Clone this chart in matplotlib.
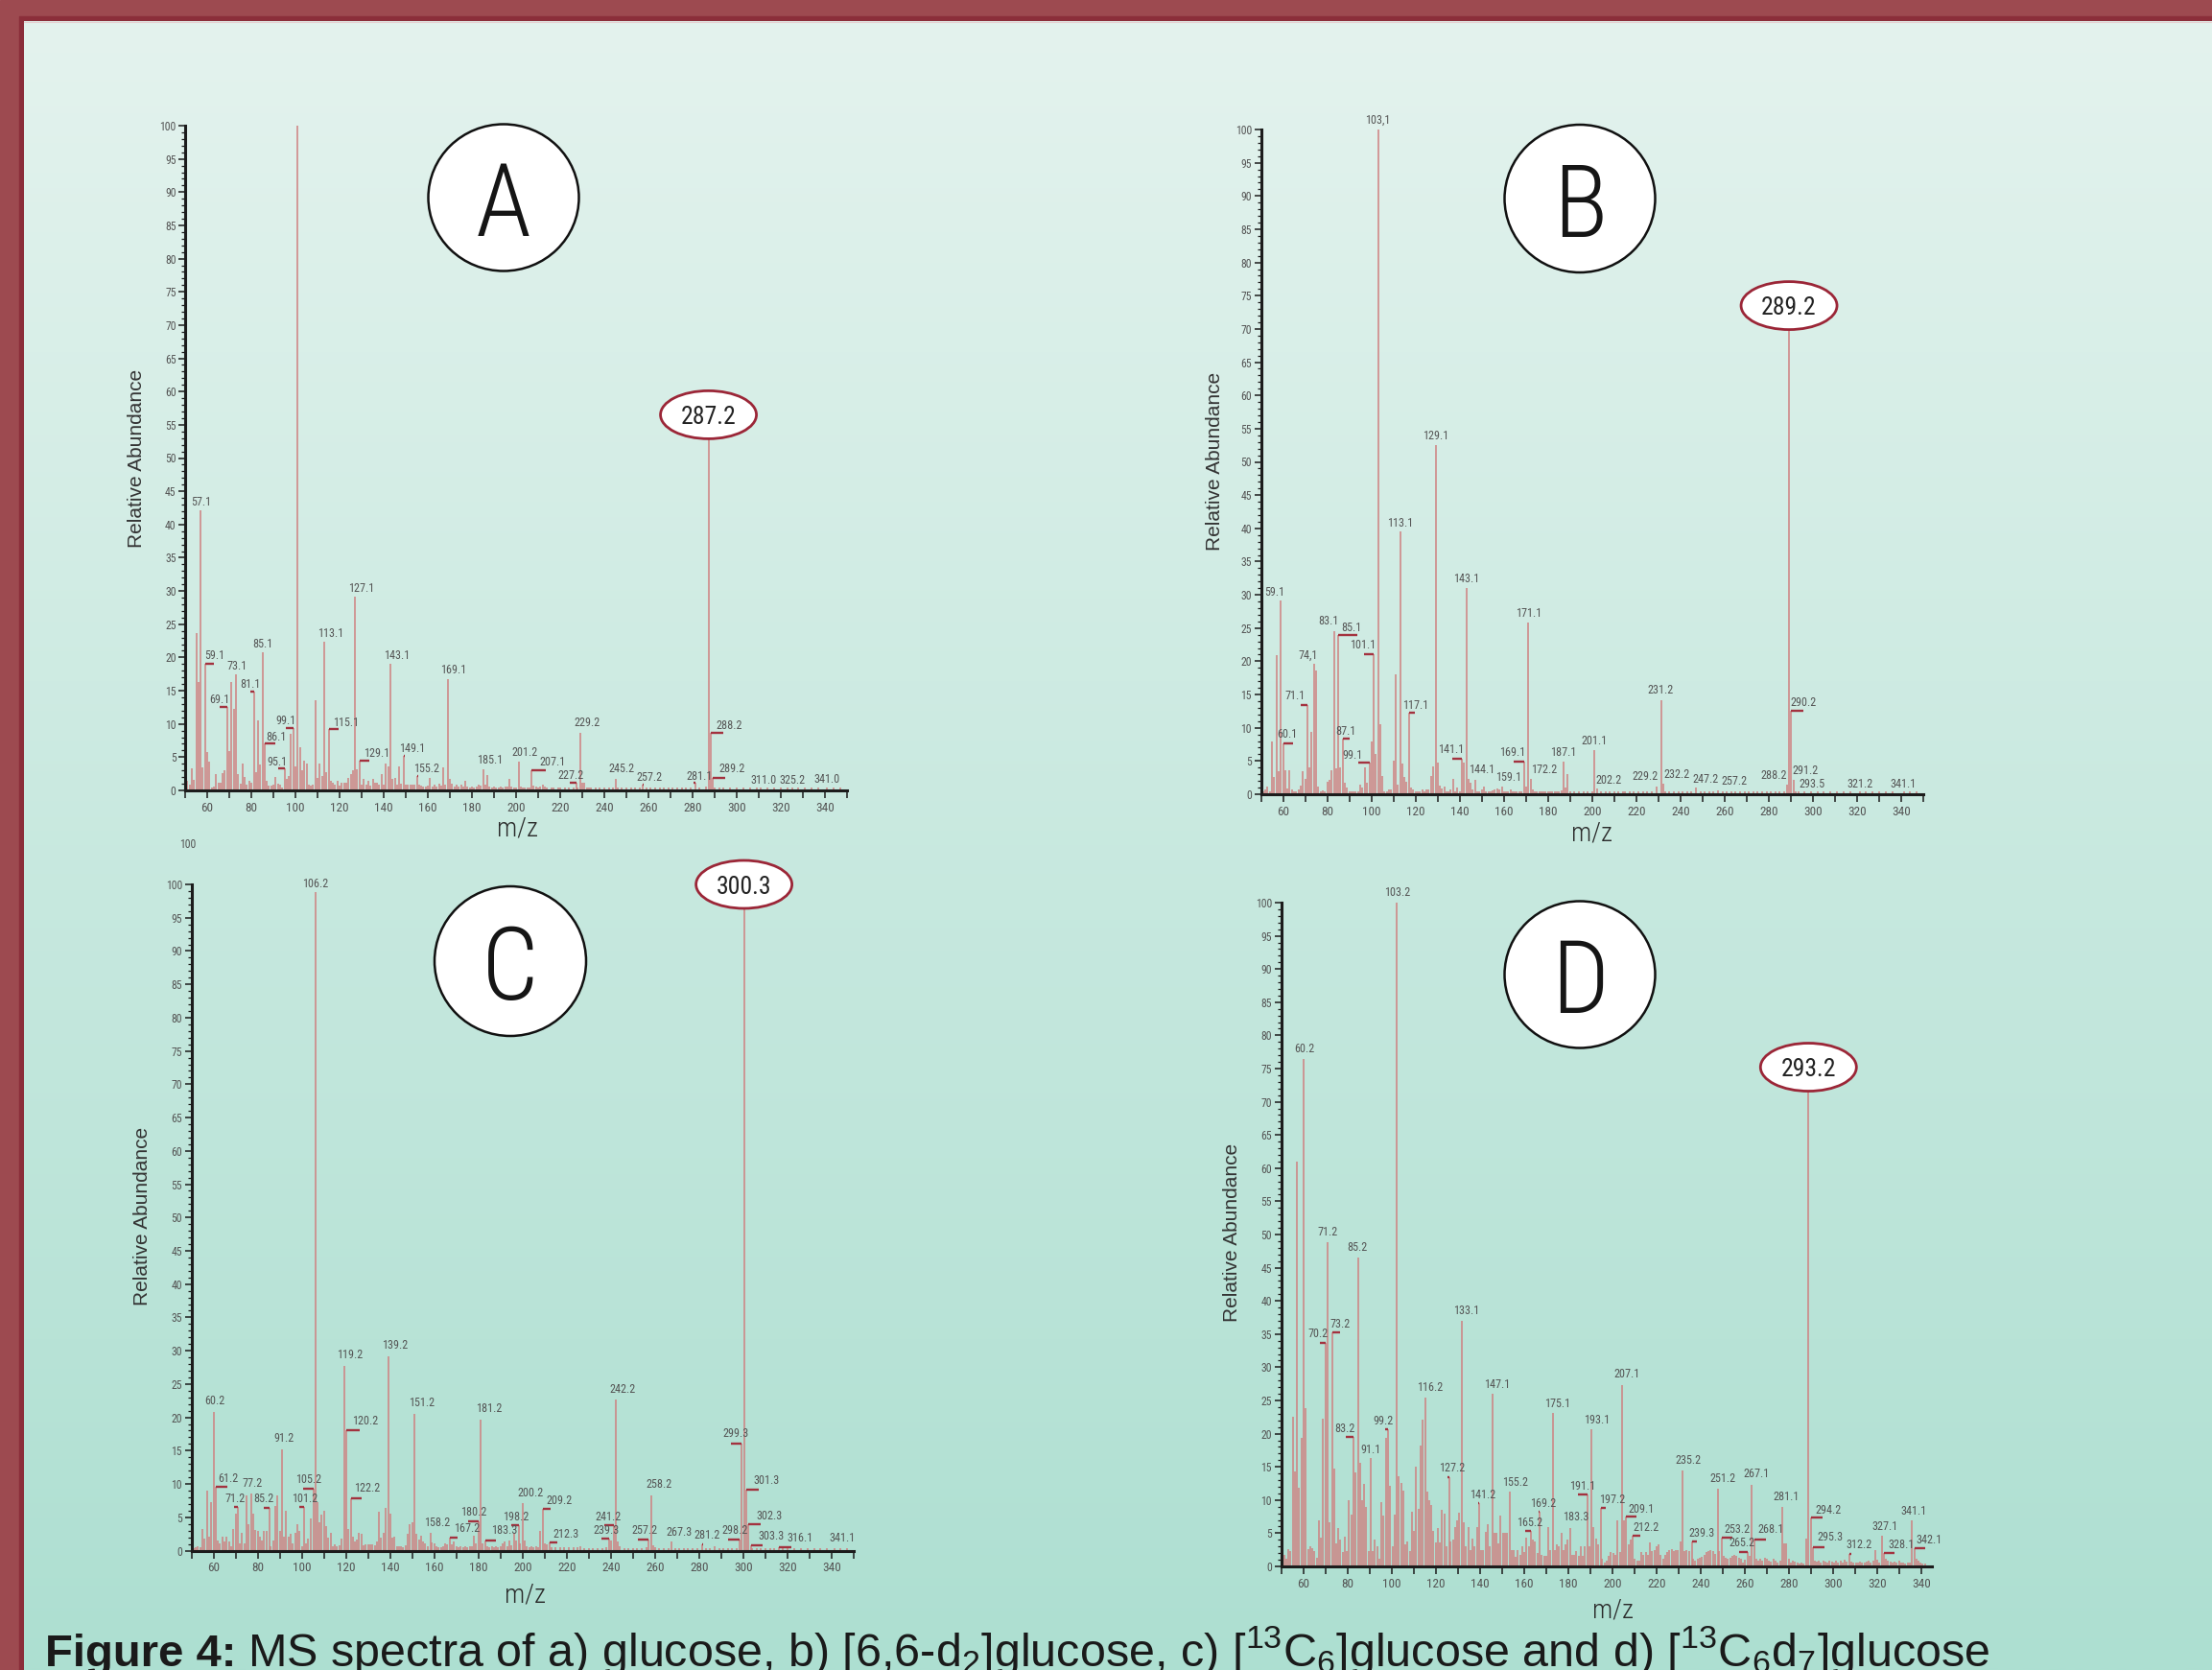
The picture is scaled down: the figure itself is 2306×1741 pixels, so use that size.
import numpy as np
import matplotlib
matplotlib.use("Agg")
import matplotlib.pyplot as plt
from matplotlib.patches import Ellipse, Rectangle
from matplotlib import font_manager

# ----------------------------------------------------------------- data
# (m/z, relative abundance)
A_peaks = [
    (51, 1.5), (52, 0.9), (53, 3.3), (54, 1.6), (55, 23.6), (56, 16.3), (57.1, 42.1), (58, 3.5), (59.1, 19.0), (60, 5.7),
    (61, 4.3), (62, 0.5), (63, 0.6), (64, 2.4), (65, 1.2), (66, 1.2), (67, 2.6), (68, 3.1), (69.1, 12.6), (70, 5.9),
    (71, 16.3), (72, 12.3), (73.1, 17.4), (74, 2.4), (75, 1.0), (76, 4.0), (77, 2.0), (78, 0.9), (79, 1.4), (80, 1.1),
    (81.1, 14.9), (82, 2.7), (83, 10.5), (84, 3.9), (85.1, 20.8), (86.1, 7.0), (87, 1.4), (88, 0.7), (89, 0.7), (90, 0.8),
    (91, 2.0), (92, 1.0), (93, 0.9), (94, 0.5), (95.1, 3.3), (96, 1.7), (97, 2.2), (98, 8.5), (99.1, 9.4), (100, 3.6),
    (101, 100.0), (102, 6.5), (103, 3.0), (104, 4.5), (105, 4.1), (106, 0.9), (107, 0.7), (108, 0.9), (109, 13.6), (110, 1.9),
    (111, 4.1), (112, 2.2), (113.1, 22.3), (114, 2.7), (115.1, 9.2), (116, 1.5), (117, 1.2), (118, 0.9), (119, 1.4), (120, 0.7),
    (121, 1.2), (122, 1.2), (123, 1.1), (124, 1.9), (125, 2.4), (126, 3.1), (127.1, 29.1), (128, 3.2), (129.1, 4.5), (130, 0.8),
    (131, 1.7), (132, 0.8), (133, 1.4), (134, 0.7), (135, 1.7), (136, 1.2), (137, 1.2), (138, 0.9), (139, 2.4), (140, 0.9),
    (141, 4.1), (142, 3.6), (143.1, 19.0), (144, 1.7), (145, 1.9), (146, 0.9), (147, 3.6), (148, 1.0), (149.1, 5.2), (150, 0.9),
    (151, 0.9), (152, 0.8), (153, 0.9), (154, 0.9), (155.2, 2.2), (156, 0.9), (157, 0.7), (158, 0.6), (159, 0.6), (160, 0.7),
    (161, 1.9), (162, 0.6), (163, 0.8), (164, 0.6), (165, 1.0), (166, 0.7), (167, 3.4), (168, 0.9), (169.1, 16.8), (170, 1.7),
    (171, 1.0), (172, 0.6), (173, 0.9), (174, 0.6), (175, 0.8), (176, 0.6), (177, 1.4), (178, 0.6), (179, 0.5), (180, 0.6),
    (181, 0.5), (182, 0.6), (183, 0.8), (184, 0.7), (185.1, 3.2), (186, 0.8), (187, 2.3), (188, 0.6), (189, 0.5), (190, 0.6),
    (191, 0.5), (192, 0.5), (193, 0.6), (194, 0.5), (195, 0.6), (196, 0.6), (197, 1.8), (198, 0.6), (199, 0.5), (200, 0.5),
    (201.2, 4.4), (202, 0.6), (203, 0.5), (204, 0.5), (205, 0.4), (206, 0.5), (207.1, 3.1), (208, 0.7), (209, 0.6), (210, 0.5),
    (211, 0.6), (212, 0.8), (213, 0.6), (214, 0.5), (216, 0.4), (217, 0.5), (219, 0.4), (220, 0.5), (222, 0.4), (224, 0.5),
    (226, 0.5), (227.2, 1.2), (228, 0.5), (229.2, 8.7), (230, 1.1), (231, 1.2), (232, 0.5), (233, 0.4), (234, 0.4), (236, 0.5),
    (238, 0.4), (240, 0.4), (242, 0.4), (244, 0.4), (245.2, 1.7), (246, 0.4), (248, 0.4), (250, 0.4), (252, 0.4), (254, 0.4),
    (256, 0.4), (257.2, 0.8), (259, 0.4), (261, 0.4), (263, 0.4), (265, 0.4), (267, 0.4), (269, 0.4), (271, 0.4), (273, 0.4),
    (275, 0.4), (277, 0.4), (279, 0.4), (281.1, 1.1), (283, 0.4), (286, 0.6), (287.2, 53.0), (288.2, 8.7), (289.2, 1.9), (290, 0.4),
    (292, 0.4), (294, 0.4), (297, 0.4), (300, 0.4), (303, 0.4), (306, 0.4), (309, 0.4), (311.0, 0.4), (314, 0.4), (317, 0.4),
    (320, 0.4), (323, 0.4), (325.2, 0.4), (328, 0.4), (331, 0.4), (334, 0.4), (337, 0.4), (341.0, 0.5), (344, 0.4), (347, 0.4),
]

B_peaks = [
    (51, 0.4), (52, 0.7), (53, 1.2), (54, 0.5), (55, 8.0), (56, 2.6), (57, 20.9), (58, 3.4), (59.1, 29.1), (60.1, 7.7),
    (61, 3.6), (62, 0.8), (63, 3.6), (64, 0.7), (65, 0.4), (66, 0.4), (67, 0.7), (68, 1.3), (69, 3.4), (70, 2.3),
    (71.1, 13.4), (72, 4.1), (73, 9.4), (74.1, 19.6), (75, 18.6), (76, 1.2), (77, 0.4), (78, 0.6), (79, 0.4), (80, 1.9),
    (81, 2.2), (82, 3.6), (83.1, 24.6), (84, 3.9), (85.1, 23.9), (86, 4.0), (87.1, 8.3), (88, 1.7), (89, 1.0), (90, 0.4),
    (91, 0.4), (92, 0.4), (93, 0.4), (94, 0.4), (95, 1.4), (96, 1.0), (97, 4.1), (98, 1.8), (99.1, 4.7), (100, 8.0),
    (101.1, 21.0), (102, 6.0), (103.1, 100.0), (104, 10.5), (105, 2.8), (106, 0.4), (107, 0.4), (108, 0.7), (109, 0.7), (110, 5.1),
    (111, 18.0), (112, 1.4), (113.1, 39.5), (114, 4.6), (115, 2.6), (116, 1.9), (117.1, 12.2), (118, 1.0), (119, 0.7), (120, 0.4),
    (121, 0.4), (122, 0.4), (123, 0.7), (124, 0.4), (125, 0.7), (126, 0.7), (127, 2.8), (128, 4.2), (129.1, 52.5), (130, 4.8),
    (131, 1.3), (132, 0.9), (133, 1.1), (134, 0.4), (135, 0.4), (136, 0.7), (137, 2.3), (138, 0.4), (139, 1.0), (140, 0.4),
    (141.1, 5.4), (142, 4.7), (143.1, 31.0), (144.1, 2.3), (145, 1.7), (146, 0.7), (147, 2.1), (148, 0.5), (149, 0.4), (150, 0.7),
    (151, 1.2), (152, 0.4), (153, 0.4), (154, 0.4), (155, 0.6), (156, 0.7), (157, 0.8), (158, 0.7), (159.1, 1.1), (160, 0.4),
    (161, 0.4), (162, 0.4), (163, 0.7), (164, 0.4), (165, 0.4), (166, 0.4), (167, 0.4), (168, 0.5), (169.1, 4.9), (170, 1.2),
    (171.1, 25.8), (172.2, 2.3), (173, 0.7), (174, 0.4), (175, 0.5), (176, 0.4), (177, 0.4), (178, 0.4), (179, 0.4), (180, 0.4),
    (181, 0.4), (182, 0.4), (183, 0.4), (184, 0.4), (185, 0.5), (186, 0.6), (187.1, 4.9), (188, 1.0), (189, 3.1), (190, 0.4),
    (192, 0.4), (194, 0.4), (196, 0.4), (198, 0.4), (200, 0.4), (201.1, 6.6), (202.2, 0.8), (204, 0.4), (206, 0.4), (208, 0.4),
    (210, 0.4), (212, 0.4), (214, 0.4), (215, 0.5), (217, 0.4), (219, 0.4), (221, 0.4), (223, 0.4), (225, 0.4), (227, 0.4),
    (229.2, 1.2), (231.2, 14.2), (232.2, 1.6), (233, 0.5), (235, 0.4), (237, 0.4), (239, 0.4), (241, 0.4), (243, 0.4), (245, 0.4),
    (247.2, 1.0), (249, 0.4), (251, 0.4), (253, 0.4), (255, 0.4), (257.2, 0.6), (259, 0.4), (261, 0.4), (263, 0.4), (265, 0.4),
    (267, 0.4), (269, 0.4), (271, 0.4), (273, 0.4), (275, 0.4), (277, 0.4), (279, 0.4), (281, 0.4), (283, 0.4), (285, 0.4),
    (287, 0.5), (288.2, 1.4), (289.2, 70.0), (290.2, 12.6), (291.2, 2.2), (292, 0.4), (293.5, 0.4), (296, 0.4), (299, 0.4), (302, 0.4),
    (305, 0.4), (308, 0.4), (311, 0.4), (314, 0.4), (317, 0.4), (321.2, 0.4), (324, 0.4), (327, 0.4), (330, 0.4), (333, 0.4),
    (336, 0.4), (341.1, 0.4), (344, 0.4), (347, 0.4),
]

C_peaks = [
    (51, 0.4), (52, 0.5), (53, 0.6), (54, 0.5), (55, 3.2), (56, 1.8), (57, 9.0), (58, 2.1), (59, 7.2), (60.2, 20.8),
    (61.2, 9.6), (62, 1.5), (63, 1.1), (64, 2.1), (65, 1.3), (66, 2.1), (67, 1.3), (68, 0.7), (69, 3.2), (70, 5.6),
    (71.2, 6.6), (72, 1.1), (73, 2.7), (74, 1.1), (75, 8.3), (76, 3.9), (77.2, 8.5), (78, 5.6), (79, 3.1), (80, 2.9),
    (81, 2.1), (82, 1.5), (83, 3.0), (84, 3.0), (85.2, 6.4), (86, 0.7), (87, 1.5), (88, 6.7), (89, 8.3), (90, 3.0),
    (91.2, 15.2), (92, 2.1), (93, 6.0), (94, 2.1), (95, 2.5), (96, 1.1), (97, 2.7), (98, 4.0), (99, 3.0), (100, 0.6),
    (101.2, 6.6), (102, 1.1), (103, 1.8), (104, 4.8), (105.2, 9.3), (106.2, 98.8), (107, 7.2), (108, 4.2), (109, 5.4), (110, 6.0),
    (111, 3.6), (112, 2.0), (113, 2.7), (114, 0.6), (115, 1.0), (116, 0.6), (117, 0.8), (118, 1.8), (119.2, 27.7), (120.2, 18.0),
    (121, 3.2), (122.2, 7.9), (123, 2.1), (124, 1.3), (125, 1.6), (126, 2.6), (127, 2.5), (128, 0.8), (129, 1.0), (130, 1.0),
    (131, 1.0), (132, 1.0), (133, 0.8), (134, 1.3), (135, 5.9), (136, 2.0), (137, 2.6), (138, 6.4), (139.2, 29.2), (140, 5.6),
    (141, 2.0), (142, 2.1), (143, 0.6), (144, 0.6), (145, 0.6), (146, 0.5), (147, 0.8), (148, 2.5), (149, 4.0), (150, 4.2),
    (151.2, 20.5), (152, 2.5), (153, 1.6), (154, 2.3), (155, 1.4), (156, 1.1), (157, 0.6), (158.2, 2.7), (159, 1.2), (160, 1.1),
    (161, 0.6), (162, 0.5), (163, 0.5), (164, 0.7), (165, 1.1), (166, 1.0), (167.2, 1.9), (168, 1.0), (169, 1.3), (170, 0.6),
    (171, 0.5), (172, 0.6), (173, 0.5), (174, 0.6), (175, 0.5), (176, 0.6), (177, 0.7), (178, 2.3), (179, 1.1), (180.2, 4.4),
    (181.2, 19.7), (182, 1.1), (183.3, 1.5), (184, 0.6), (185, 0.5), (186, 0.6), (187, 0.5), (188, 0.6), (189, 0.5), (190, 0.7),
    (191, 1.1), (192, 1.3), (193, 0.6), (194, 1.5), (195, 0.8), (196, 2.7), (197, 1.5), (198.2, 3.8), (199, 1.1), (200.2, 7.1),
    (201, 1.5), (202, 0.6), (203, 0.5), (204, 0.6), (205, 0.5), (206, 0.6), (207, 0.5), (208, 2.9), (209.2, 6.3), (210, 1.1),
    (211, 1.0), (212.3, 1.2), (213, 0.5), (215, 0.5), (217, 0.5), (219, 0.5), (221, 0.5), (223, 0.5), (225, 0.5), (226, 0.7),
    (228, 0.4), (230, 0.4), (232, 0.4), (234, 0.4), (236, 0.4), (238, 0.5), (239.3, 1.8), (240, 1.5), (241.2, 3.8), (242.2, 22.7),
    (243, 1.3), (244, 0.6), (246, 0.4), (248, 0.4), (250, 0.4), (252, 0.4), (254, 0.4), (256, 0.5), (257.2, 1.6), (258.2, 8.3),
    (259, 0.8), (260, 0.5), (262, 0.4), (264, 0.4), (266, 0.4), (267.3, 1.3), (269, 0.4), (271, 0.4), (273, 0.4), (275, 0.4),
    (277, 0.4), (279, 0.4), (281.2, 1.0), (283, 0.4), (285, 0.4), (287, 0.6), (289, 0.4), (291, 0.4), (293, 0.4), (295, 0.4),
    (297, 0.4), (298.2, 1.7), (299.3, 16.1), (300.3, 96.5), (301.3, 9.1), (302.3, 3.9), (303.3, 0.8), (304, 0.4), (306, 0.4), (308, 0.4),
    (310, 0.4), (312, 0.4), (314, 0.4), (316.1, 0.5), (318, 0.4), (320, 0.4), (323, 0.4), (326, 0.4), (329, 0.4), (332, 0.4),
    (335, 0.4), (338, 0.4), (341.1, 0.4), (344, 0.4), (347, 0.4),
]

D_peaks = [
    (51, 1.7), (52, 1.1), (53, 2.6), (54, 2.3), (55, 22.5), (56, 14.3), (57, 61.0), (58, 11.8), (59, 19.3), (60.2, 76.5),
    (61, 23.9), (62, 2.6), (63, 3.0), (64, 2.8), (65, 2.3), (66, 1.3), (67, 7.0), (68, 4.4), (69, 22.2), (70.2, 33.7),
    (71.2, 48.8), (72, 6.6), (73.2, 35.2), (74, 14.8), (75, 3.4), (76, 5.8), (77, 4.1), (78, 2.1), (79, 4.5), (80, 2.3),
    (81, 9.9), (82, 7.8), (83.2, 19.5), (84, 14.1), (85.2, 46.5), (86, 15.6), (87, 9.9), (88, 12.5), (89, 8.9), (90, 2.3),
    (91.1, 16.3), (92, 2.3), (93, 4.0), (94, 3.0), (95, 1.1), (96, 9.7), (97, 7.6), (98, 19.4), (99.2, 20.6), (100, 12.2),
    (101, 3.0), (102, 7.8), (103.2, 100.0), (104, 13.6), (105, 12.6), (106, 11.4), (107, 3.3), (108, 3.8), (109, 2.3), (110, 8.2),
    (111, 5.3), (112, 15.1), (113, 8.6), (114, 18.2), (115, 22.1), (116.2, 25.4), (117, 11.2), (118, 10.0), (119, 9.3), (120, 5.4),
    (121, 3.6), (122, 5.8), (123, 3.6), (124, 8.5), (125, 8.0), (126, 3.0), (127.2, 13.5), (128, 3.7), (129, 4.0), (130, 5.9),
    (131, 6.9), (132, 8.1), (133.1, 37.0), (134, 6.6), (135, 3.0), (136, 5.9), (137, 2.5), (138, 4.2), (139, 3.0), (140, 5.9),
    (141.2, 9.5), (142, 2.5), (143, 2.5), (144, 5.2), (145, 6.4), (146, 3.0), (147.1, 26.0), (148, 5.0), (149, 5.1), (150, 3.5),
    (151, 7.6), (152, 5.0), (153, 5.0), (154, 5.0), (155.2, 11.3), (156, 2.5), (157, 2.5), (158, 1.5), (159, 2.5), (160, 1.8),
    (161, 3.0), (162, 2.1), (163, 4.4), (164, 3.0), (165.2, 5.3), (166, 4.0), (167, 3.8), (168, 2.0), (169.2, 8.3), (170, 1.8),
    (171, 1.6), (172, 1.6), (173, 5.9), (174, 2.5), (175.1, 23.1), (176, 2.5), (177, 3.3), (178, 3.0), (179, 5.0), (180, 2.5),
    (181, 3.3), (182, 4.0), (183.3, 5.8), (184, 1.8), (185, 1.7), (186, 2.3), (187, 1.6), (188, 3.0), (189, 1.6), (190, 3.0),
    (191.1, 10.8), (192, 3.0), (193.1, 20.6), (194, 5.9), (195, 4.2), (196, 3.3), (197.2, 8.8), (198, 1.1), (199, 0.6), (200, 0.9),
    (201, 1.6), (202, 2.1), (203, 2.0), (204, 1.8), (205, 6.9), (206, 2.1), (207.1, 27.3), (208, 6.9), (209.1, 7.5), (210, 3.3),
    (211, 4.0), (212.2, 4.6), (213, 1.1), (214, 0.9), (215, 0.9), (216, 2.1), (217, 1.8), (218, 2.1), (219, 1.7), (220, 3.6),
    (221, 2.3), (222, 2.5), (223, 3.0), (224, 3.3), (225, 1.8), (226, 1.1), (227, 1.8), (228, 2.1), (229, 2.5), (230, 2.6),
    (231, 2.3), (232, 2.5), (233, 2.5), (234, 3.8), (235.2, 14.5), (236, 2.3), (237, 2.5), (238, 2.3), (239.3, 3.8), (240, 1.1),
    (241, 0.9), (242, 1.1), (243, 1.3), (244, 1.5), (245, 1.8), (246, 2.1), (247, 2.3), (248, 2.5), (249, 2.3), (250, 1.9),
    (251.2, 11.7), (252, 2.3), (253.2, 4.4), (254, 1.6), (255, 1.3), (256, 1.1), (257, 1.3), (258, 1.6), (259, 1.8), (260, 1.6),
    (261, 1.3), (262, 1.1), (263, 0.6), (264, 1.0), (265.2, 2.2), (266, 1.6), (267.1, 12.3), (268.1, 4.1), (269, 1.1), (270, 0.9),
    (271, 1.1), (272, 0.9), (273, 1.3), (274, 1.1), (275, 0.9), (276, 0.7), (277, 1.1), (278, 0.9), (279, 0.6), (280, 0.8),
    (281.1, 9.0), (282, 3.5), (283, 3.5), (284, 1.1), (285, 0.6), (286, 0.9), (287, 0.7), (288, 0.6), (289, 0.5), (290, 0.6),
    (291, 0.5), (292, 4.2), (293.2, 71.7), (294.2, 7.3), (295.3, 2.9), (296, 0.9), (297, 0.7), (298, 0.9), (299, 0.6), (300, 0.8),
    (301, 0.7), (302, 0.6), (303, 0.9), (304, 0.7), (305, 0.6), (306, 0.8), (307, 0.6), (308, 0.9), (309, 0.6), (310, 1.0),
    (311, 0.7), (312.2, 1.9), (313, 0.7), (314, 0.6), (315, 0.6), (316, 0.6), (317, 0.7), (318, 0.6), (319, 0.6), (320, 0.7),
    (321, 0.9), (322, 0.6), (323, 0.8), (324, 2.5), (325, 1.0), (326, 0.6), (327.1, 4.6), (328.1, 2.0), (329, 1.1), (330, 0.9),
    (331, 0.7), (332, 0.6), (333, 0.7), (334, 0.6), (335, 0.8), (336, 0.6), (337, 0.6), (338, 0.5), (339, 0.6), (340, 0.6),
    (341.1, 6.9), (342.1, 2.7), (343, 1.1), (344, 0.9), (345, 0.6), (346, 0.5), (347, 0.4),
]

# peak annotations
A_labels = ['57.1', '59.1', '69.1', '73.1', '81.1', '85.1', '86.1', '95.1', '99.1', '113.1', '115.1', '127.1',
            '129.1', '143.1', '149.1', '155.2', '169.1', '185.1', '201.2', '207.1', '227.2', '229.2', '245.2',
            '257.2', '281.1', '288.2', '289.2', '311.0', '325.2', '341.0']
B_labels = ['59.1', '60.1', '71.1', '74,1', '83.1', '85.1', '87.1', '99.1', '101.1', '103,1', '113.1', '117.1',
            '129.1', '141.1', '143.1', '144.1', '159.1', '169.1', '171.1', '172.2', '187.1', '201.1', '202.2',
            '229.2', '231.2', '232.2', '247.2', '257.2', '288.2', '290.2', '291.2', '293.5', '321.2', '341.1']
C_labels = ['60.2', '61.2', '71.2', '77.2', '85.2', '91.2', '101.2', '105.2', '106.2', '119.2', '120.2', '122.2',
            '139.2', '151.2', '158.2', '167.2', '180.2', '181.2', '183.3', '198.2', '200.2', '209.2', '212.3',
            '239.3', '241.2', '242.2', '257.2', '258.2', '267.3', '281.2', '298.2', '299.3', '301.3', '302.3',
            '303.3', '316.1', '341.1']
D_labels = ['60.2', '70.2', '71.2', '73.2', '83.2', '85.2', '91.1', '99.2', '103.2', '116.2', '127.2', '133.1',
            '141.2', '147.1', '155.2', '165.2', '169.2', '175.1', '183.3', '191.1', '193.1', '197.2', '207.1',
            '209.1', '212.2', '235.2', '239.3', '251.2', '253.2', '265.2', '267.1', '268.1', '281.1', '294.2',
            '295.3', '312.2', '327.1', '328.1', '341.1', '342.1']
callouts = {'A': '287.2', 'B': '289.2', 'C': '300.3', 'D': '293.2'}
panel_letters = ['A', 'B', 'C', 'D']
x_tick_values = list(range(50, 351, 10))
# panel D's printed m/z scale is offset from the data: printed = 1.38 + 0.9804 * m/z
D_scale_offset, D_scale_factor = 1.38, 0.9804

# ---------------------------------------------------------------- layout / style
# label layout: (hook length, label x offset, label y offset) in data units
A_lay = [(0, .4, .8), (3.9, 4.1, .7), (-3.3, -3.3, .6), (0, .4, .8), (-1.7, -1.7, .5), (0, .2, .7), (4.8, 5.1, .5),
         (-3.1, -3.5, .5), (-3.5, -3.3, .6), (0, 3.0, .8), (4.6, 7.7, .5), (0, 2.7, .8), (4.4, 7.7, .6), (0, 2.7, .7),
         (.6, 3.7, .6), (.6, 4.2, .6), (0, 2.7, .8), (0, 2.9, .9), (0, 2.7, .8), (6.5, 9.6, .6), (-3.0, -2.3, .6),
         (0, 2.9, .9), (0, 2.5, 1.0), (.6, 3.3, .6), (-.6, 2.1, .5), (5.8, 8.5, .6), (5.4, 8.5, .8), (0, 1.2, .6),
         (0, 0, .6), (0, 0, .6)]
B_lay = [(0, -2.7, .7), (4.4, 2.0, .8), (-3.1, -5.5, .9), (0, -2.7, .8), (0, -2.7, .9), (8.5, 6.0, .7), (3.3, 1.2, .7),
         (-5.0, -7.5, .6), (-4.6, -5.1, .9), (0, 0, .9), (0, 0, .8), (2.5, 2.9, .7), (0, 0, .9), (-4.6, -5.1, .8),
         (0, 0, .9), (0, 5.9, .9), (0, 3.0, .9), (-4.8, -5.2, .8), (0, 0, .9), (0, 5.9, .9), (0, 0, .9), (0, 0, .9),
         (0, 5.4, .8), (0, -5.0, .9), (0, 0, .9), (0, 6.0, .9), (0, 4.0, .7), (0, 7.0, .8), (0, -6.0, .9),
         (5.6, 5.5, .7), (0, 5.6, .8), (0, 6.0, .6), (0, 0, .6), (0, 0, .6)]
C_lay = [(0, .2, 1.1), (5.0, 5.5, .7), (-1.7, -1.2, .7), (0, .5, 1.1), (-2.5, -2.3, .9), (0, .6, 1.1), (-2.5, 0, .7),
         (-4.8, -2.3, .9), (0, 0, .8), (0, 2.7, 1.1), (6.0, 8.5, .9), (4.8, 7.4, .9), (0, 3.2, 1.1), (0, 3.2, 1.1),
         (0, 3.3, 1.0), (3.3, 7.4, .9), (-4.8, -2.5, .8), (0, 3.6, 1.1), (4.5, 8.3, 1.0), (-3.3, -1.3, .8),
         (0, 3.3, 1.1), (3.7, 7.3, .7), (3.3, 7.3, .8), (-3.7, -1.4, .7), (-4.0, -2.3, .8), (0, 3.1, 1.0),
         (-4.8, -1.9, .9), (0, 3.7, 1.1), (0, 3.6, 1.0), (.5, 2.5, .8), (-5.0, -1.9, .8), (-5.0, -2.5, 1.0),
         (5.5, 9.4, .9), (5.5, 9.4, .8), (5.5, 9.5, .9), (5.5, 9.4, .85), (0, 3.5, 1.0)]
D_lay = [(0, 0, 1.0), (-2.5, -3.5, .8), (0, 0, 1.0), (3.6, 3.6, .8), (-3.6, -4.1, .8), (0, -.5, 1.0), (0, 0, .8),
         (-1.5, -2.3, .8), (0, 0, 1.0), (0, 2.1, 1.0), (-.6, 1.3, .8), (0, 2.3, 1.0), (-.5, 1.5, .7), (0, 2.3, .9),
         (0, 2.5, .9), (-2.8, -.7, .8), (-.7, 1.4, .7), (0, 2.3, .9), (0, 2.3, 1.1), (-4.2, -2.5, .7), (0, 2.3, 1.0),
         (2.5, 5.4, .7), (0, 2.1, 1.1), (4.5, 7.0, .6), (3.5, 6.0, .7), (0, 2.3, 1.0), (2.5, 4.8, .7), (0, 2.3, 1.0),
         (5.0, 7.0, .7), (-4.0, -2.6, .8), (0, 2.1, 1.1), (5.3, 7.8, .9), (0, 1.7, 1.0), (5.7, 8.4, .7),
         (5.5, 8.1, 1.0), (1.0, 4.3, .8), (0, 1.6, .9), (5.0, 7.8, .8), (0, .9, .9), (5.0, 6.7, .7)]

W, H, DPI = 2306, 1741, 100
# axes boxes in pixels: left, top, right, bottom
boxes = {'A': (193, 131, 883, 824), 'B': (1314.5, 135, 2005, 828),
         'C': (199.5, 922, 890, 1616.5), 'D': (1335.5, 941, 2014.4, 1633)}
xlims = {'A': (50, 350), 'B': (50, 350), 'C': (50, 350), 'D': (49.6, 350.4)}
letter_pos = {'A': (525, 206, 157, 153), 'B': (1647, 207, 157, 154),
              'C': (532, 1002, 158, 156), 'D': (1647, 1016, 157, 153)}
ylabel_pos = {'A': (143, 478), 'B': (1266, 481), 'C': (149, 1268), 'D': (1284, 1285)}
xlabel_pos = {'A': (540, 864), 'B': (1660, 869), 'C': (547, 1663), 'D': (1682, 1679)}

PEAK = '#cf8080'
HOOK = '#a3323f'
LBL = '#555555'
AXC = '#1c1c1c'
CALL_EDGE = '#9b2637'

names = {f.name for f in font_manager.fontManager.ttflist}


def pick(cands, default):
    for c in cands:
        if c in names:
            return c
    return default


SANS = pick(['Liberation Sans', 'Arial', 'Helvetica'], 'DejaVu Sans')
NARROW = pick(['Liberation Sans Narrow', 'Arial Narrow', 'Roboto Condensed'], SANS)
plt.rcParams['font.family'] = [SANS, 'DejaVu Sans']
plt.rcParams['mathtext.default'] = 'regular'

fig = plt.figure(figsize=(W / DPI, H / DPI), dpi=DPI)

# ---------------------------------------------------------------- background
bg = fig.add_axes([0, 0, 1, 1])
bg.set_zorder(0)
bg.axis('off')
bg.add_patch(Rectangle((0, 0), W, H, color='#9d4a50', zorder=0))
bg.add_patch(Rectangle((20, 17), W, H, color='#8b2e3a', zorder=1))
frac = np.linspace(0, 1, 400)[:, None, None]
top_c = np.array([228, 243, 238]) / 255.0
bot_c = np.array([173, 223, 209]) / 255.0
grad = top_c + (bot_c - top_c) * frac
bg.imshow(grad, extent=(25, W, H, 22), aspect='auto', interpolation='bilinear', zorder=2)
bg.plot([25, W], [22.5, 22.5], color='#e6cfd0', lw=0.8, zorder=3)
bg.set_xlim(0, W)
bg.set_ylim(H, 0)

ov = fig.add_axes([0, 0, 1, 1])
ov.set_zorder(10)
ov.axis('off')
ov.patch.set_alpha(0)
ov.set_xlim(0, W)
ov.set_ylim(H, 0)


def to_label_float(t):
    return float(t.replace(',', '.'))


def draw_panel(key, peaks, labels, lay):
    left, top, right, bottom = boxes[key]
    ax = fig.add_axes([left / W, 1 - bottom / H, (right - left) / W, (bottom - top) / H])
    ax.set_zorder(5)
    ax.patch.set_alpha(0)
    mz = np.array([p[0] for p in peaks], dtype=float)
    ab = np.array([p[1] for p in peaks], dtype=float)
    ax.vlines(mz, 0, ab, colors=PEAK, lw=1.1, zorder=2)
    x0, x1 = xlims[key]
    ax.set_xlim(x0, x1)
    ax.set_ylim(0, 100)
    for s in ('top', 'right'):
        ax.spines[s].set_visible(False)
    for s in ('left', 'bottom'):
        ax.spines[s].set_linewidth(2.2)
        ax.spines[s].set_color(AXC)
        ax.spines[s].set_zorder(4)
    # y ticks
    ax.set_yticks(range(0, 101, 5))
    ax.set_yticks(range(0, 101, 1), minor=True)
    ax.tick_params(axis='y', which='major', length=4.8, width=1.1, color=AXC, labelsize=8.5,
                   labelcolor=LBL, pad=2, labelfontfamily=NARROW)
    ax.tick_params(axis='y', which='minor', length=3.0, width=0.9, color=AXC)
    # x ticks
    vals = [v for v in x_tick_values if (key != 'D' or v <= 340)]
    if key == 'D':
        pos = [(v - D_scale_offset) / D_scale_factor for v in vals]
    else:
        pos = vals
    maj = [(p, v) for p, v in zip(pos, vals) if v % 20 == 0 and v >= 60]
    ax.set_xticks([p for p, v in maj])
    ax.set_xticklabels([str(v) for p, v in maj])
    ax.set_xticks([p for p, v in zip(pos, vals) if not (v % 20 == 0 and v >= 60)], minor=True)
    ax.tick_params(axis='x', which='both', length=5.5, width=1.1, color=AXC, labelsize=9.5,
                   labelcolor=LBL, pad=3, labelfontfamily=NARROW)

    # peak labels
    for txt, (hook, ldx, ldy) in zip(labels, lay):
        m = to_label_float(txt)
        i = int(np.argmin(np.abs(mz - m)))
        x, h = mz[i], ab[i]
        if hook:
            ax.plot([x, x + hook], [h, h], color=HOOK, lw=1.7, solid_capstyle='butt',
                    clip_on=False, zorder=3)
        ax.text(x + ldx, h + ldy, txt, ha='center', va='baseline', fontsize=8.7,
                family=NARROW, color=LBL, clip_on=False, zorder=6)

    # call-out ellipse on the molecular ion
    ct = callouts[key]
    m = to_label_float(ct)
    i = int(np.argmin(np.abs(mz - m)))
    x, h = mz[i], ab[i]
    px_x = (right - left) / (x1 - x0)
    px_y = (bottom - top) / 100.0
    ew, eh = 100 / px_x, 50 / px_y
    cy = h + eh / 2 - 0.1
    ax.add_patch(Ellipse((x, cy), ew, eh, facecolor='white', edgecolor=CALL_EDGE, lw=2.0,
                         zorder=7, clip_on=False))
    ax.text(x, cy, ct, ha='center', va='center_baseline', fontsize=18.5, family=NARROW,
            color='#222222', zorder=8, clip_on=False)

    # panel letter
    lx, ly, lw_, lh = letter_pos[key]
    ov.add_patch(Ellipse((lx, ly), lw_, lh, facecolor='white', edgecolor='#111111', lw=1.8, zorder=2))
    ov.text(lx, ly, key, ha='center', va='center_baseline', fontsize=76, family=NARROW,
            fontweight='light', color='#151515', zorder=3)
    # axis titles
    yx, yy = ylabel_pos[key]
    ov.text(yx, yy, 'Relative Abundance', rotation=90, ha='center', va='center', fontsize=15,
            family=SANS, color='#333333')
    xx, xy = xlabel_pos[key]
    ov.text(xx, xy, 'm/z', ha='center', va='center', fontsize=20, family=NARROW,
            fontweight='light', color='#2a2a2a')
    return ax


draw_panel('A', A_peaks, A_labels, A_lay)
draw_panel('B', B_peaks, B_labels, B_lay)
draw_panel('C', C_peaks, C_labels, C_lay)
draw_panel('D', D_peaks, D_labels, D_lay)

# stray scale label above panel C
ov.text(196, 881, '100', ha='center', va='center', fontsize=8.5, family=NARROW, color=LBL)

# caption
cap1 = ov.text(47, 1737, 'Figure 4:', ha='left', va='baseline', fontsize=34, fontweight='bold',
               family=SANS, color='#1a1a1a')
fig.canvas.draw()
r = fig.canvas.get_renderer()
bb = cap1.get_window_extent(r)
cap2 = ov.text(bb.x1 + 12, 1737,
               'MS spectra of a) glucose, b) [6,6-d$_2$]glucose, c) [$^{13}$C$_6$]glucose '
               'and d) [$^{13}$C$_6$d$_7$]glucose',
               ha='left', va='baseline', fontsize=34, family=SANS, color='#1a1a1a')
bb2 = cap2.get_window_extent(r)
target = 2078 - (bb.x1 + 12)
if bb2.width > 0:
    cap2.set_fontsize(34 * target / bb2.width)

fig.savefig('out.png', dpi=DPI)
